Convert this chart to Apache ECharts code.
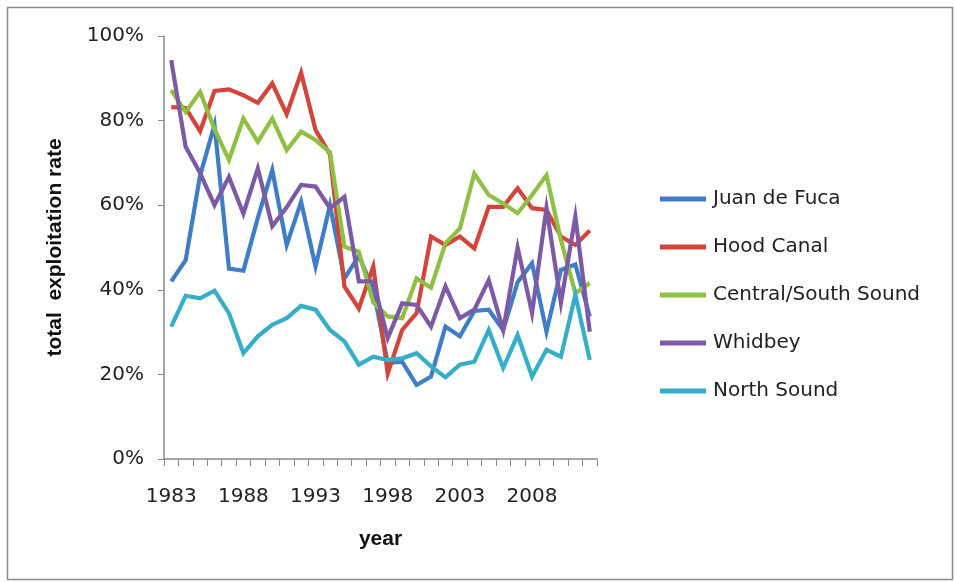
<!DOCTYPE html>
<html>
<head>
<meta charset="utf-8">
<script src="https://cdn.jsdelivr.net/npm/echarts@6/dist/echarts.min.js"></script>
<style>
html,body{margin:0;padding:0;background:#fff;}
#chart{width:955px;height:582px;}
</style>
</head>
<body>
<div id="chart"></div>
<script>
const years = [];
for (let y = 1983; y <= 2012; y++) years.push(String(y));

const juanDeFuca = [42, 47, 67, 79, 45, 44.5, 57, 68.3, 50.6, 60.8, 45.5, 60, 42.7, 48, 40, 22.7, 23, 17.5, 19.5, 31.3, 29, 35, 35.3, 30.5, 41.8, 46.3, 30.1, 44.7, 46, 33.7];
const hoodCanal = [83.2, 83, 77.5, 87, 87.4, 86, 84.2, 88.8, 81.5, 91.3, 77.8, 72, 40.8, 35.6, 45.5, 20.2, 30.5, 34.5, 52.6, 50.6, 52.6, 49.8, 59.6, 59.6, 64, 59.3, 58.9, 52.6, 50.6, 54];
const centralSouth = [87.2, 82, 86.8, 78, 70.7, 80.5, 75, 80.5, 73, 77.4, 75.4, 72.5, 50.2, 49, 37, 33.7, 33.3, 42.7, 40.5, 51, 54.5, 67.5, 62.4, 60.4, 58.1, 62.4, 67.1, 51.8, 39.2, 41.6];
const whidbey = [94.3, 73.8, 67.6, 60, 66.7, 58, 68.7, 55, 59.5, 64.8, 64.4, 59.3, 62, 42, 42, 28.6, 36.8, 36.4, 31.3, 40.8, 33.3, 35.3, 42.3, 30.5, 50, 34.5, 59.3, 36.9, 57.3, 30.1];
const northSound = [31.3, 38.6, 38, 39.8, 34.5, 25, 29, 31.7, 33.3, 36.2, 35.3, 30.5, 27.8, 22.3, 24.2, 23.4, 23.8, 25, 21.9, 19.3, 22.3, 23, 30.5, 21.5, 29.3, 19.5, 25.8, 24.2, 38.8, 23.4];

const seriesNames = ['Juan de Fuca', 'Hood Canal', 'Central/South Sound', 'Whidbey', 'North Sound'];
const seriesData = [juanDeFuca, hoodCanal, centralSouth, whidbey, northSound];
const colors = ['#3f7ec6', '#d3453b', '#8fc043', '#7d5aa6', '#37aec9'];

const FONT = 'DejaVu Sans';
const chart = echarts.init(document.getElementById('chart'), null, {renderer: 'canvas'});
chart.setOption({
  backgroundColor: '#ffffff',
  animation: false,
  color: colors,
  graphic: [{
    type: 'rect',
    shape: {x: 7.5, y: 7.5, width: 945, height: 572},
    style: {fill: null, stroke: '#8c8c8c', lineWidth: 1.5},
    silent: true
  }],
  grid: {left: 164, right: 358, top: 36, bottom: 123},
  legend: {
    orient: 'vertical',
    left: 655,
    top: 184,
    itemGap: 28,
    itemWidth: 46,
    itemHeight: 5,
    icon: 'rect',
    textStyle: {fontFamily: FONT, fontSize: 20, color: '#222', padding: [0, 0, 0, 2]},
    data: seriesNames
  },
  xAxis: {
    type: 'category',
    data: years,
    boundaryGap: true,
    name: 'year',
    nameLocation: 'middle',
    nameGap: 70,
    nameTextStyle: {fontFamily: 'Liberation Sans', fontWeight: 'bold', fontSize: 21, color: '#111'},
    axisLine: {lineStyle: {color: '#8a8a8a', width: 1.5}},
    axisTick: {show: true, interval: 0, alignWithLabel: false, length: 7, lineStyle: {color: '#8a8a8a'}},
    axisLabel: {interval: 4, margin: 28, fontFamily: FONT, fontSize: 20, color: '#222'},
    splitLine: {show: false}
  },
  yAxis: {
    type: 'value',
    min: 0,
    max: 100,
    interval: 20,
    name: 'total  exploitation rate',
    nameLocation: 'middle',
    nameGap: 98,
    nameRotate: 90,
    nameTextStyle: {fontFamily: 'Liberation Sans', fontWeight: 'bold', fontSize: 21, color: '#111'},
    axisLine: {show: true, lineStyle: {color: '#8a8a8a', width: 1.5}},
    axisTick: {show: true, length: 6, lineStyle: {color: '#8a8a8a'}},
    axisLabel: {margin: 20, fontFamily: FONT, fontSize: 20, color: '#222', formatter: v => v + '%'},
    splitLine: {show: false}
  },
  series: seriesNames.map((n, i) => ({
    name: n,
    type: 'line',
    data: seriesData[i],
    symbol: 'none',
    lineStyle: {width: 4.2, color: colors[i], join: 'miter'},
    itemStyle: {color: colors[i]}
  }))
});
</script>
</body>
</html>
